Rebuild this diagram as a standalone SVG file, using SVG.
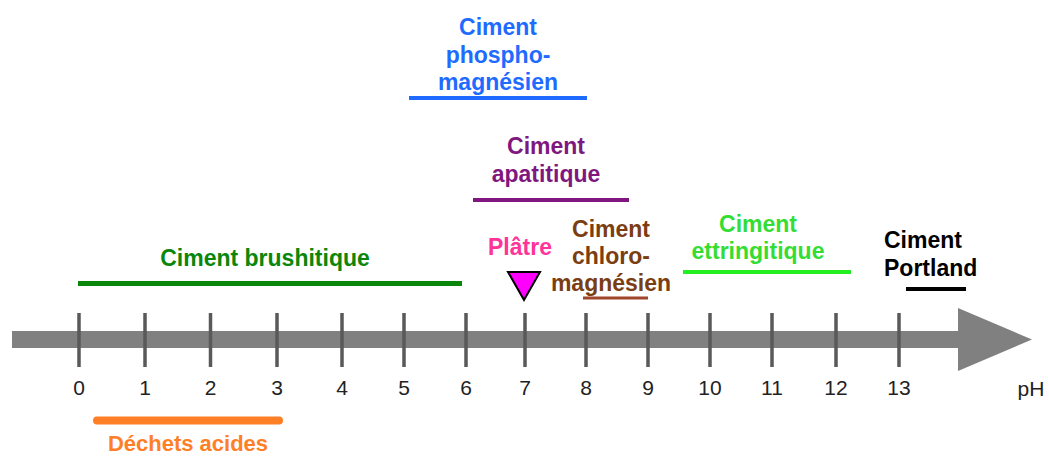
<svg xmlns="http://www.w3.org/2000/svg" width="1049" height="457" viewBox="0 0 1049 457">
<style>
.lbl{font-family:"Liberation Sans",Arial,sans-serif;font-weight:bold;font-size:23px;text-anchor:middle}
.num{font-family:"Liberation Sans",Arial,sans-serif;font-size:21px;fill:#222;text-anchor:middle}
.tick{stroke:#595959;stroke-width:3.5}
</style>
<rect width="1049" height="457" fill="#fff"/>
<g id="axis">
<path d="M12 331H958V308L1032 339.5L958 371V348H12Z" fill="#808080"/>
<g class="tick">
<line x1="79" y1="313" x2="79" y2="367"/>
<line x1="145" y1="313" x2="145" y2="367"/>
<line x1="210.5" y1="313" x2="210.5" y2="367"/>
<line x1="277" y1="313" x2="277" y2="367"/>
<line x1="342" y1="313" x2="342" y2="367"/>
<line x1="404" y1="313" x2="404" y2="367"/>
<line x1="466" y1="313" x2="466" y2="367"/>
<line x1="525" y1="313" x2="525" y2="367"/>
<line x1="586" y1="313" x2="586" y2="367"/>
<line x1="648" y1="313" x2="648" y2="367"/>
<line x1="710" y1="313" x2="710" y2="367"/>
<line x1="772" y1="313" x2="772" y2="367"/>
<line x1="836" y1="313" x2="836" y2="367"/>
<line x1="899" y1="313" x2="899" y2="367"/>
</g>
<g class="num">
<text x="79" y="395">0</text>
<text x="145" y="395">1</text>
<text x="210.5" y="395">2</text>
<text x="277" y="395">3</text>
<text x="342" y="395">4</text>
<text x="404" y="395">5</text>
<text x="466" y="395">6</text>
<text x="525" y="395">7</text>
<text x="586" y="395">8</text>
<text x="648" y="395">9</text>
<text x="710" y="395">10</text>
<text x="772" y="395">11</text>
<text x="836" y="395">12</text>
<text x="899" y="395">13</text>
<text x="1031" y="396">pH</text>
</g>
</g>
<g id="connectors"></g>
<g id="dechets">
<line x1="97" y1="420.5" x2="279" y2="420.5" stroke="#FF7F27" stroke-width="8" stroke-linecap="round"/>
<text class="lbl" x="188" y="451" fill="#FF7F27" style="font-size:22px">Déchets acides</text>
</g>
<g id="brushitique">
<line x1="78" y1="283.5" x2="462" y2="283.5" stroke="#0A860A" stroke-width="5"/>
<text class="lbl" x="265" y="266" fill="#0A860A">Ciment brushitique</text>
</g>
<g id="phospho">
<line x1="409" y1="98" x2="587" y2="98" stroke="#1F6BFF" stroke-width="4"/>
<text class="lbl" fill="#1F6BFF"><tspan x="498" y="35">Ciment</tspan><tspan x="498" y="63">phospho-</tspan><tspan x="498" y="90">magnésien</tspan></text>
</g>
<g id="apatitique">
<line x1="473" y1="200" x2="629" y2="200" stroke="#7F177F" stroke-width="4"/>
<text class="lbl" fill="#7F177F"><tspan x="546" y="154">Ciment</tspan><tspan x="546" y="182">apatitique</tspan></text>
</g>
<g id="platre">
<text class="lbl" x="520" y="255" fill="#FF3399">Plâtre</text>
<path d="M508 272H540L524 300Z" fill="#FF00FF" stroke="#000" stroke-width="2"/>
</g>
<g id="chloro">
<line x1="583" y1="298" x2="648" y2="298" stroke="#A0452A" stroke-width="3"/>
<text class="lbl" fill="#7A3E12"><tspan x="611" y="237">Ciment</tspan><tspan x="611" y="264">chloro-</tspan><tspan x="611" y="291">magnésien</tspan></text>
</g>
<g id="ettringitique">
<line x1="683" y1="272" x2="851" y2="272" stroke="#22EE22" stroke-width="4"/>
<text class="lbl" fill="#33DD33"><tspan x="758" y="232">Ciment</tspan><tspan x="758" y="259">ettringitique</tspan></text>
</g>
<g id="portland">
<line x1="906" y1="289" x2="966" y2="289" stroke="#000" stroke-width="4"/>
<text class="lbl" fill="#000" style="text-anchor:start"><tspan x="884" y="248">Ciment</tspan><tspan x="884" y="276">Portland</tspan></text>
</g>
</svg>
